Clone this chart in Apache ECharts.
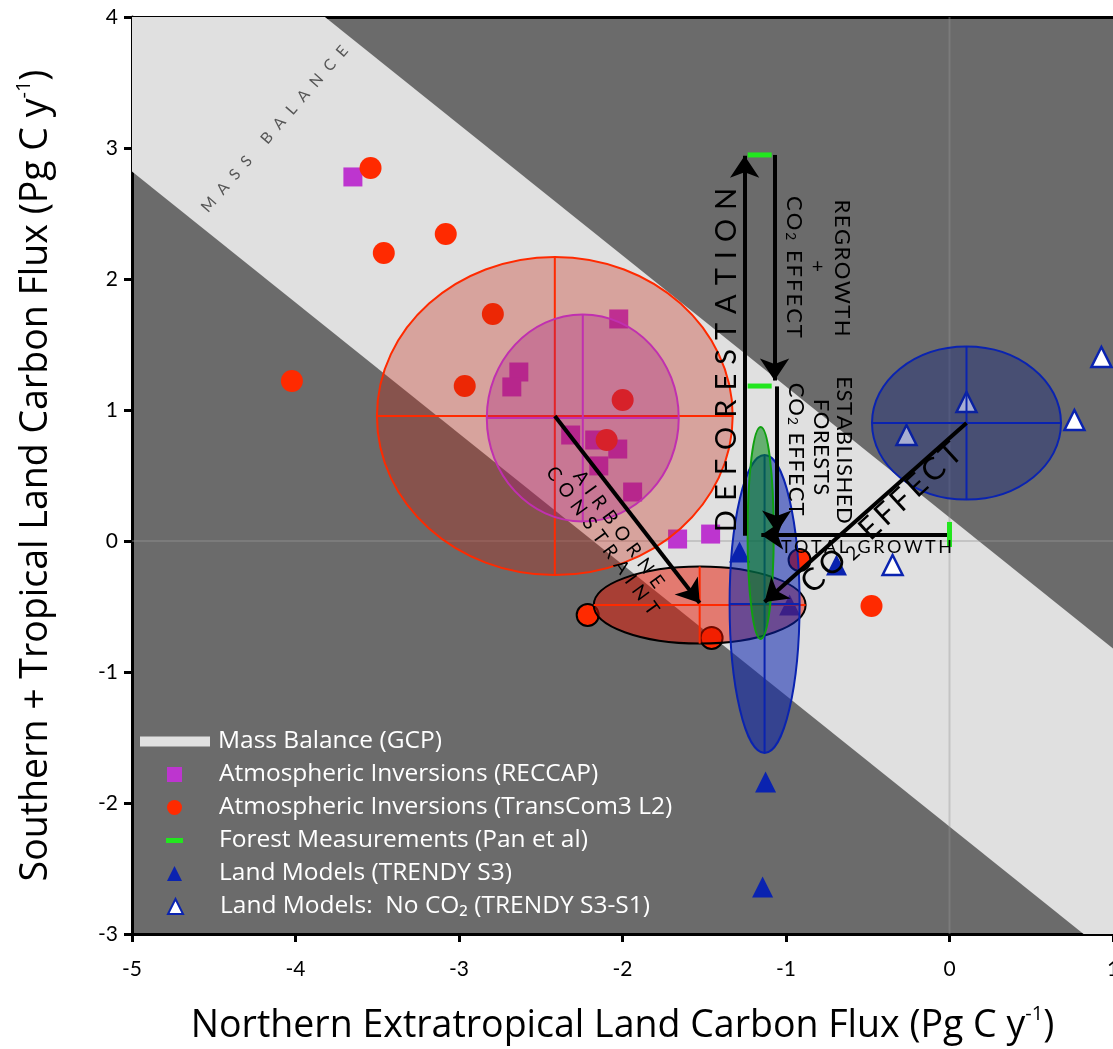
<!DOCTYPE html>
<html><head><meta charset="utf-8">
<script src="https://cdn.jsdelivr.net/npm/echarts@6/dist/echarts.min.js"></script>
<style>html,body{margin:0;padding:0;background:#fff}#c{width:1113px;height:1049px}</style>
</head><body><div id="c"></div>
<script>
// ---------------- data ----------------
const xTicks = [-5, -4, -3, -2, -1, 0, 1];
const yTicks = [-3, -2, -1, 0, 1, 2, 3, 4];
// Mass balance (GCP) band: bounds of x + y
const massBalanceUpper = 0.18;
const massBalanceLower = -2.18;

const reccapX = [-3.649, -2.023, -2.634, -2.677, -2.317, -2.170, -2.029, -2.145, -1.938, -1.663, -1.461];
const reccapY = [2.779, 1.695, 1.290, 1.176, 0.809, 0.771, 0.702, 0.573, 0.374, 0.015, 0.053];

const transcomX = [-3.541, -3.081, -3.460, -2.793, -2.965, -4.022, -1.999, -2.097, -0.477, -0.917, -2.213, -1.455];
const transcomY = [2.847, 2.344, 2.198, 1.733, 1.183, 1.221, 1.076, 0.771, -0.496, -0.145, -0.565, -0.740];
const transcomAirborne = [0, 0, 0, 0, 0, 0, 0, 0, 0, 1, 1, 1];

const forestX = [-1.161, -1.161, 0.0];
const forestY = [2.947, 1.183, 0.05];
const forestVertical = [0, 0, 1];

const trendyS3X = [-1.125, -1.143, -0.691, -1.284, -0.978];
const trendyS3Y = [-1.840, -2.641, -0.183, -0.084, -0.489];

const trendyNoCO2X = [0.929, 0.104, 0.764, -0.263, -0.348];
const trendyNoCO2Y = [1.405, 1.061, 0.924, 0.809, -0.183];

// spread ellipses: centre and semi-axes (data units)
const ellipseNames = ['TransCom3 spread', 'RECCAP spread', 'Airborne constrained', 'TRENDY S3 spread', 'Forest spread', 'TRENDY S3-S1 spread'];
const ellipseCX = [-2.414, -2.243, -1.528, -1.131, -1.155, 0.104];
const ellipseCY = [0.954, 0.939, -0.489, -0.481, 0.061, 0.900];
const ellipseRX = [1.088, 0.587, 0.648, 0.214, 0.080, 0.578];
const ellipseRY = [1.214, 0.790, 0.294, 1.137, 0.809, 0.584];

// arrows (from -> to)
const arrowFrom = [[-1.253, 0.04], [-1.070, 2.947], [-1.057, 1.18], [0.0, 0.046], [0.104, 0.900], [-2.414, 0.954]];
const arrowTo   = [[-1.253, 2.94], [-1.070, 1.225], [-1.057, 0.065], [-1.151, 0.046], [-1.131, -0.466], [-1.528, -0.473]];

// annotations
const annotationText = ['MASS BALANCE', 'DEFORESTATION', 'CO₂ EFFECT', '+', 'REGROWTH', 'CO₂ EFFECT', 'FORESTS', 'ESTABLISHED', 'TOTAL GROWTH', 'CO₂ EFFECT', 'AIRBORNE\nCONSTRAINT'];
const annotationX = [-4.128, -1.364, -0.948, -0.807, -0.654, -0.936, -0.783, -0.642, -0.508, -0.416, -2.073];
const annotationY = [3.145, 1.382, 2.092, 2.092, 2.084, 0.702, 0.718, 0.695, -0.046, 0.176, 0.046];

// ---------------- styles ----------------
const FONT = 'Lato, "Open Sans", "DejaVu Sans", sans-serif';
const FONT_WIDE = '"Open Sans", Lato, "DejaVu Sans", sans-serif';
const C_RECCAP = '#bd35cf', C_TRANS = '#ff2a00', C_FOREST = '#22e61e', C_TRENDY = '#0a23b0';
const ellipseStyle = [
  {fill: 'rgba(195,35,15,0.32)', stroke: '#ff2a00', cross: '#ff2a00'},
  {fill: 'rgba(165,20,130,0.30)', stroke: '#c030b0', cross: '#c030b0'},
  {fill: 'rgba(230,20,0,0.50)', stroke: '#000000', cross: '#ff2a00'},
  {fill: 'rgba(10,35,175,0.55)', stroke: C_TRENDY, cross: C_TRENDY},
  {fill: 'rgba(0,135,20,0.55)', stroke: '#10a010', cross: null},
  {fill: 'rgba(10,30,130,0.36)', stroke: C_TRENDY, cross: C_TRENDY}
];
const annotationStyle = [
  {size: 15.5, gap: 9, rot: 49, color: '#555555'},
  {size: 29, gap: 9, rot: 90, color: '#000'},
  {size: 22, gap: 2, rot: -90, color: '#000'},
  {size: 20, gap: 0, rot: 0, color: '#000'},
  {size: 22, gap: 1.5, rot: -90, color: '#000'},
  {size: 22, gap: 1, rot: -90, color: '#000'},
  {size: 22, gap: 0.5, rot: -90, color: '#000'},
  {size: 22, gap: 0.5, rot: -90, color: '#000'},
  {size: 18, gap: 2.5, rot: 0, color: '#000'},
  {size: 31, gap: 3.5, rot: 42.5, color: '#000'},
  {size: 19, gap: 6.5, rot: -54, color: '#000'}
];

function spacedRich(str, st) {
  const rich = {
    l: {fontSize: st.size, fontFamily: FONT, fill: st.color, padding: [0, st.gap / 2, 0, st.gap / 2], lineHeight: st.size * 1.05},
    s: {fontSize: st.size * 0.62, fontFamily: FONT, fill: st.color, padding: [st.size * 0.25, st.gap / 2, 0, st.gap / 2], lineHeight: st.size * 1.05, verticalAlign: 'bottom'}
  };
  const text = str.split('\n').map(line => line.split('').map(ch => ch === '₂' ? '{s|2}' : '{l|' + ch + '}').join('')).join('\n');
  return {text, rich};
}

const zip = (xs, ys) => xs.map((x, i) => [x, ys[i]]);

const chart = echarts.init(document.getElementById('c'), null, {renderer: 'canvas'});

const legendBase = {orient: 'vertical', padding: 0, itemGap: 0,
  textStyle: {color: '#ffffff', fontFamily: FONT_WIDE, fontSize: 24.5, lineHeight: 26}};
const legendRows = [741.5, 774.5, 807.5, 840.5, 873.5, 906.5];
const titleRich = {
  sup: {fontSize: 20, fontFamily: FONT_WIDE, color: '#000', verticalAlign: 'top', lineHeight: 27},
  n: {fontSize: 37.5, fontFamily: FONT_WIDE, color: '#000', lineHeight: 44}
};

const option = {
  animation: false,
  backgroundColor: '#ffffff',
  grid: {left: 132, right: 0, top: 17, bottom: 115, show: true, backgroundColor: '#6b6b6b', borderWidth: 0, outerBoundsMode: 'none'},
  xAxis: [{
    type: 'value', min: xTicks[0], max: xTicks[xTicks.length - 1], interval: 1, position: 'bottom',
    name: 'Northern Extratropical Land Carbon Flux (Pg C y{sup|-1}{n|)}',
    nameLocation: 'middle', nameGap: 70,
    nameTextStyle: {color: '#000', fontFamily: FONT_WIDE, fontSize: 37.5, lineHeight: 44, rich: titleRich},
    axisLine: {onZero: false, lineStyle: {color: '#000', width: 3}},
    axisTick: {show: true, inside: false, length: 8, lineStyle: {color: '#000', width: 3}},
    axisLabel: {color: '#000', fontFamily: FONT, fontSize: 21, margin: 25, formatter: v => String(v)},
    splitLine: {show: false}
  }, {
    type: 'value', min: xTicks[0], max: xTicks[xTicks.length - 1], position: 'top',
    axisLine: {onZero: false, lineStyle: {color: '#000', width: 3}},
    axisTick: {show: false}, axisLabel: {show: false}, splitLine: {show: false}
  }],
  yAxis: {
    type: 'value', min: yTicks[0], max: yTicks[yTicks.length - 1], interval: 1,
    name: 'Southern + Tropical Land Carbon Flux (Pg C y{sup|-1}{n|)}',
    nameLocation: 'middle', nameGap: 74, nameRotate: 90,
    nameTextStyle: {color: '#000', fontFamily: FONT_WIDE, fontSize: 37.5, lineHeight: 44, rich: titleRich},
    axisLine: {onZero: false, lineStyle: {color: '#000', width: 3}},
    axisTick: {show: true, inside: false, length: 8, lineStyle: {color: '#000', width: 3}},
    axisLabel: {color: '#000', fontFamily: FONT, fontSize: 21, margin: 14, formatter: v => String(v)},
    splitLine: {show: false}
  },
  legend: [
    Object.assign({}, legendBase, {data: [{name: 'Mass Balance (GCP)', icon: 'rect'}], left: 140, top: legendRows[0] - 13, itemWidth: 70, itemHeight: 10,
      textStyle: Object.assign({}, legendBase.textStyle, {padding: [0, 0, 0, 3]})}),
    Object.assign({}, legendBase, {data: [{name: 'Atmospheric Inversions (RECCAP)', icon: 'rect'}], left: 167, top: legendRows[1] - 13, itemWidth: 15, itemHeight: 15,
      textStyle: Object.assign({}, legendBase.textStyle, {padding: [0, 0, 0, 32]})}),
    Object.assign({}, legendBase, {data: [{name: 'Atmospheric Inversions (TransCom3 L2)', icon: 'circle'}], left: 167, top: legendRows[2] - 13, itemWidth: 15, itemHeight: 15,
      textStyle: Object.assign({}, legendBase.textStyle, {padding: [0, 0, 0, 32]})}),
    Object.assign({}, legendBase, {data: [{name: 'Forest Measurements (Pan et al)', icon: 'rect'}], left: 166, top: legendRows[3] - 13, itemWidth: 17, itemHeight: 5,
      textStyle: Object.assign({}, legendBase.textStyle, {padding: [0, 0, 0, 31]})}),
    Object.assign({}, legendBase, {data: [{name: 'Land Models (TRENDY S3)', icon: 'triangle'}], left: 167, top: legendRows[4] - 13, itemWidth: 15, itemHeight: 15,
      textStyle: Object.assign({}, legendBase.textStyle, {padding: [0, 0, 0, 32]})}),
    Object.assign({}, legendBase, {data: [{name: 'Land Models:  No CO₂ (TRENDY S3-S1)', icon: 'triangle'}], left: 167, top: legendRows[5] - 13, itemWidth: 15, itemHeight: 15,
      itemStyle: {borderWidth: 2, borderColor: C_TRENDY},
      textStyle: Object.assign({}, legendBase.textStyle, {padding: [0, 0, 0, 32]})})
  ],
  series: [
    {
      name: 'Mass Balance (GCP)', type: 'custom', z: 1, silent: true, clip: true,
      itemStyle: {color: '#e0e0e0'},
      data: [[massBalanceUpper, massBalanceLower]],
      encode: {x: 0, y: 1},
      renderItem: function (params, api) {
        const U = api.value(0), L = api.value(1);
        const pts = [[-8, U + 8], [4, U - 4], [4, L - 4], [-8, L + 8]].map(p => api.coord(p));
        const o = api.coord([0, 0]);
        const bb = params.coordSys;
        return {type: 'group', children: [
          {type: 'polygon', shape: {points: pts}, style: {fill: '#e0e0e0'}},
          {type: 'line', shape: {x1: o[0], y1: bb.y, x2: o[0], y2: bb.y + bb.height}, style: {stroke: 'rgba(150,150,150,0.38)', lineWidth: 2}},
          {type: 'line', shape: {x1: bb.x, y1: o[1], x2: bb.x + bb.width, y2: o[1]}, style: {stroke: 'rgba(150,150,150,0.38)', lineWidth: 2}}
        ]};
      }
    },
    {
      name: 'Atmospheric Inversions (RECCAP)', type: 'scatter', z: 2, symbol: 'rect', symbolSize: 19,
      itemStyle: {color: C_RECCAP, opacity: 1}, data: zip(reccapX, reccapY)
    },
    {
      name: 'Atmospheric Inversions (TransCom3 L2)', type: 'scatter', z: 2, symbol: 'circle', symbolSize: 22,
      itemStyle: {color: C_TRANS, opacity: 1},
      data: zip(transcomX, transcomY).map((p, i) => transcomAirborne[i]
        ? {value: p, itemStyle: {borderColor: '#000', borderWidth: 2}} : {value: p})
    },
    {
      name: 'Land Models (TRENDY S3)', type: 'scatter', z: 2, symbol: 'triangle', symbolSize: 21,
      itemStyle: {color: C_TRENDY, opacity: 1}, data: zip(trendyS3X, trendyS3Y)
    },
    {
      name: 'Land Models:  No CO₂ (TRENDY S3-S1)', type: 'scatter', z: 2, symbol: 'triangle', symbolSize: 20,
      itemStyle: {color: '#ffffff', borderColor: C_TRENDY, borderWidth: 2.5, opacity: 1}, data: zip(trendyNoCO2X, trendyNoCO2Y)
    },
    {
      name: 'Spread ellipses', type: 'custom', z: 3, silent: true,
      data: ellipseCX.map((x, i) => [x, ellipseCY[i], ellipseRX[i], ellipseRY[i]]),
      encode: {x: 0, y: 1},
      renderItem: function (params, api) {
        const st = ellipseStyle[params.dataIndex];
        const c = api.coord([api.value(0), api.value(1)]);
        const s = api.size([api.value(2), api.value(3)]);
        const children = [{type: 'ellipse', shape: {cx: c[0], cy: c[1], rx: s[0], ry: s[1]},
          style: {fill: st.fill, stroke: st.stroke, lineWidth: 2}}];
        if (st.cross) {
          children.push({type: 'line', shape: {x1: c[0] - s[0], y1: c[1], x2: c[0] + s[0], y2: c[1]}, style: {stroke: st.cross, lineWidth: 2}});
          children.push({type: 'line', shape: {x1: c[0], y1: c[1] - s[1], x2: c[0], y2: c[1] + s[1]}, style: {stroke: st.cross, lineWidth: 2}});
        }
        return {type: 'group', children};
      }
    },
    {
      name: 'Arrows', type: 'lines', coordinateSystem: 'cartesian2d', z: 4, silent: true,
      symbol: ['none', 'arrow'], symbolSize: [17, 22],
      lineStyle: {color: '#000', width: 4, opacity: 1, curveness: 0},
      data: arrowFrom.map((f, i) => ({coords: [f, arrowTo[i]]}))
    },
    {
      name: 'Forest Measurements (Pan et al)', type: 'scatter', z: 5, symbol: 'rect',
      itemStyle: {color: C_FOREST, opacity: 1},
      data: zip(forestX, forestY).map((p, i) => ({value: p, symbolSize: forestVertical[i] ? [5, 25] : [24, 5]}))
    },
    {
      name: 'Annotations', type: 'custom', z: 6, silent: true,
      data: annotationX.map((x, i) => [x, annotationY[i]]),
      encode: {x: 0, y: 1},
      renderItem: function (params, api) {
        const i = params.dataIndex;
        const st = annotationStyle[i];
        const p = api.coord([api.value(0), api.value(1)]);
        const r = spacedRich(annotationText[i], st);
        return {type: 'text', x: p[0], y: p[1], rotation: st.rot * Math.PI / 180,
          style: {text: r.text, rich: r.rich, fontSize: st.size, fontFamily: FONT, fill: st.color, align: 'center', verticalAlign: 'middle'}};
      }
    }
  ]
};
chart.setOption(option);
</script>
</body></html>
